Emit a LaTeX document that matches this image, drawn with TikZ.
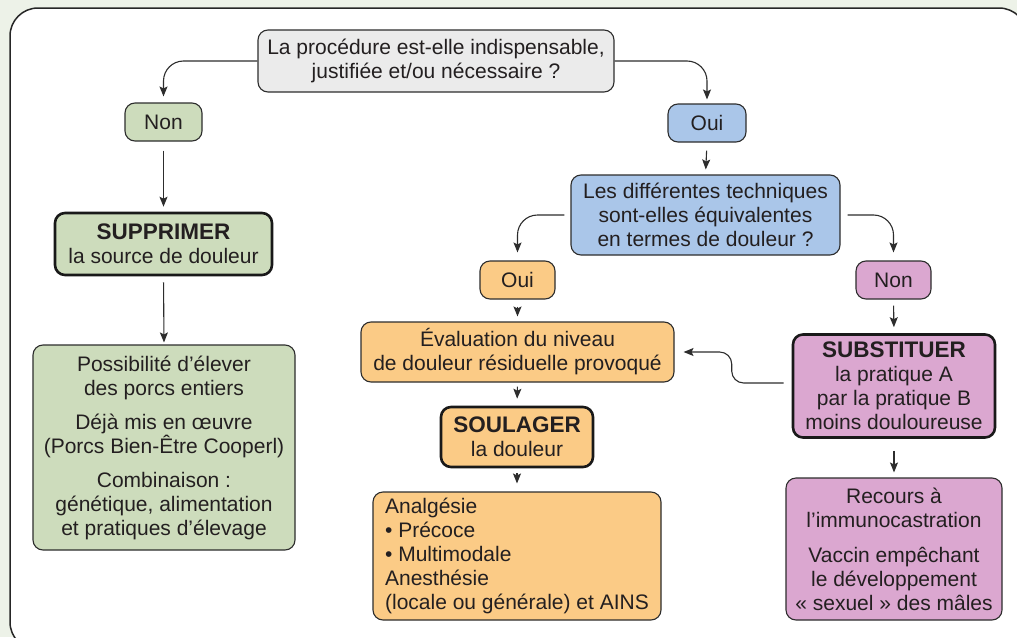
\documentclass[tikz,border=0pt]{standalone}
\usepackage{fontspec}
\setmainfont{Liberation Sans}
\usetikzlibrary{arrows.meta}
\definecolor{bgc}{RGB}{237,242,232}
\definecolor{txt}{RGB}{35,31,32}
\definecolor{lnc}{RGB}{45,45,45}
\definecolor{grayf}{RGB}{235,235,235}
\definecolor{greenf}{RGB}{205,220,188}
\definecolor{bluef}{RGB}{170,198,233}
\definecolor{orangef}{RGB}{251,203,134}
\definecolor{pinkf}{RGB}{219,167,208}
\tikzset{
  box/.style={draw=lnc, line width=1.1pt, rounded corners=10pt, inner sep=0pt,
    align=center, text=txt, font=\fontsize{21}{24}\selectfont},
  thickbox/.style={box, draw=black!90, line width=2.6pt},
  arr/.style={draw=lnc, line width=1.1pt, -{Stealth[length=10pt,width=8pt,inset=2pt]}},
}
\newcommand{\hdtxt}[1]{{\fontsize{22.5}{24}\selectfont\bfseries #1}}
\begin{document}
\begin{tikzpicture}[x=1pt,y=-1pt]
\useasboundingbox (0,0) rectangle (1017,637);
\fill[bgc] (0,0) rectangle (1017,637);
\begin{scope}
\clip (0,0) rectangle (1017,637);
\draw[fill=white, draw=black!85, line width=1.5pt, rounded corners=28pt] (10,8) rectangle (1027,650);
\end{scope}

% nodes
\node[box, fill=grayf, minimum width=356pt, minimum height=62pt] (top) at (436,61)
  {La procédure est-elle indispensable,\\justifiée et/ou nécessaire~?};
\node[box, fill=greenf, minimum width=77pt, minimum height=38pt] (non) at (163.5,122) {Non};
\node[box, fill=bluef, minimum width=78pt, minimum height=38pt] (oui) at (707,123) {Oui};
\node[thickbox, fill=greenf, minimum width=217pt, minimum height=62pt] (supp) at (163.5,244)
  {\hdtxt{SUPPRIMER}\\la source de douleur};
\node[box, fill=greenf, minimum width=262pt, minimum height=205pt] (green) at (164,447.5)
  {Possibilité d’élever\\des porcs entiers\\[10pt]Déjà mis en œuvre\\(Porcs Bien-Être Cooperl)\\[10pt]Combinaison~:\\génétique, alimentation\\et pratiques d’élevage};
\node[box, fill=bluef, minimum width=269pt, minimum height=80pt] (blue) at (705.5,215)
  {Les différentes techniques\\sont-elles équivalentes\\en termes de douleur~?};
\node[box, fill=orangef, minimum width=75pt, minimum height=38pt] (oui2) at (517.5,280) {Oui};
\node[box, fill=pinkf, minimum width=75pt, minimum height=38pt] (non2) at (893.5,280) {Non};
\node[box, fill=orangef, minimum width=313pt, minimum height=60pt] (eval) at (517.5,352)
  {Évaluation du niveau\\de douleur résiduelle provoqué};
\node[thickbox, fill=orangef, minimum width=152pt, minimum height=60pt] (soul) at (517,437)
  {\hdtxt{SOULAGER}\\la douleur};
\node[box, fill=orangef, align=left, minimum width=288pt, minimum height=128pt] (analg) at (517,556)
  {Analgésie\\• Précoce\\• Multimodale\\Anesthésie\\(locale ou générale) et AINS};
\node[thickbox, fill=pinkf, minimum width=202pt, minimum height=103pt] (sub) at (894,386)
  {\hdtxt{SUBSTITUER}\\la pratique A\\par la pratique B\\moins douloureuse};
\node[box, fill=pinkf, minimum width=216pt, minimum height=142pt] (rec) at (894,549)
  {Recours à\\l’immunocastration\\[11pt]Vaccin empêchant\\le développement\\«~sexuel~» des mâles};

% connectors
\draw[arr, rounded corners=20pt, shorten >=6pt] (top.west) -| (non.north);
\draw[arr, rounded corners=20pt, shorten >=4pt] (top.east) -| (oui.north);
\draw[arr, shorten <=9pt, shorten >=5pt] (non.south) -- (supp.north);
\draw[arr, shorten <=6pt, shorten >=2pt] (supp.south) -- (green.north);
\draw[arr, shorten <=8pt, shorten >=5pt] (oui.south) -- (blue.north);
\draw[arr, rounded corners=20pt, shorten <=6pt, shorten >=8pt] (blue.west) -| (oui2.north);
\draw[arr, rounded corners=20pt, shorten <=7pt, shorten >=8pt] (blue.east) -| (non2.north);
\draw[arr, shorten <=7pt, shorten >=5pt] (oui2.south) -- (eval.north);
\draw[arr, shorten <=4pt, shorten >=7pt] (eval.south) -- (soul.north);
\draw[arr, shorten <=5pt, shorten >=8pt] (soul.south) -- (analg.north);
\draw[arr, shorten <=6pt, shorten >=6pt] (non2.south) -- (sub.north);
\draw[arr, shorten <=12pt, shorten >=5pt] (sub.south) -- (rec.north);
\draw[arr, rounded corners=12pt, shorten >=9pt]
  ([xshift=-8pt,yshift=3pt]sub.west) -- ++(-52,0) -- ++(0,-31) -- (eval.east);
\end{tikzpicture}
\end{document}
